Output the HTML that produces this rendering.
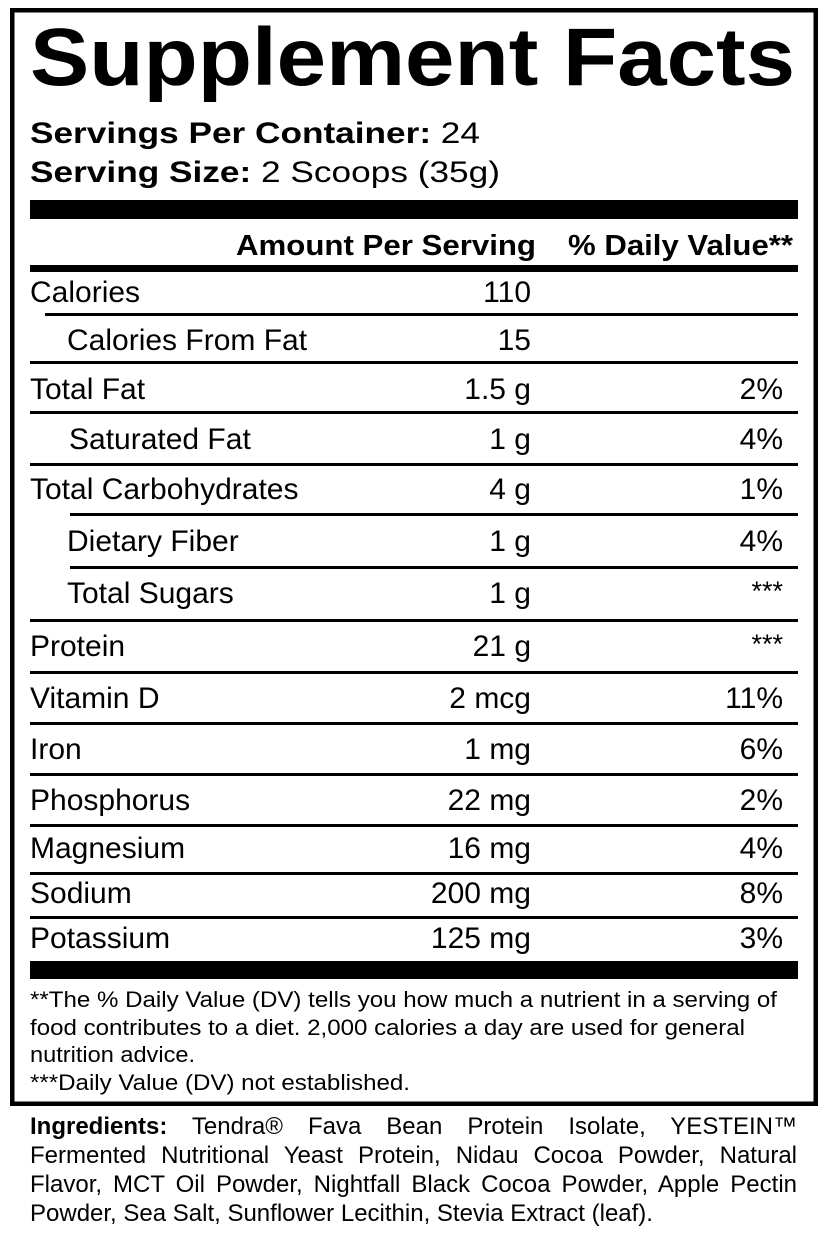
<!DOCTYPE html>
<html><head><meta charset="utf-8"><style>
html,body{margin:0;padding:0;background:#fff}
svg{display:block}
text{font-family:"Liberation Sans",Arial,sans-serif;fill:#000}
.r{font-size:30px}
.e{text-anchor:end}
.f{font-size:22px}
#ing{position:absolute;left:30px;top:1112px;width:767px;font-family:"Liberation Sans",Arial,sans-serif;font-size:24px;line-height:29px}
#ing div{text-align:justify;text-align-last:justify;white-space:nowrap}
#ing div.l{text-align-last:left}
</style></head><body>
<svg width="826" height="1236" viewBox="0 0 826 1236" xmlns="http://www.w3.org/2000/svg">
<rect x="12.25" y="10.25" width="803.5" height="1093.5" fill="none" stroke="#000" stroke-width="4.5"/>
<text x="30" y="85" font-size="82" font-weight="bold" textLength="765" lengthAdjust="spacingAndGlyphs">Supplement Facts</text>
<text x="30" y="143" font-size="30" textLength="450" lengthAdjust="spacingAndGlyphs"><tspan font-weight="bold">Servings Per Container:</tspan> 24</text>
<text x="30" y="182" font-size="30" textLength="470" lengthAdjust="spacingAndGlyphs"><tspan font-weight="bold">Serving Size:</tspan> 2 Scoops (35g)</text>
<rect x="30" y="200" width="768" height="19"/>
<text x="236" y="255" font-size="29" font-weight="bold" textLength="300" lengthAdjust="spacingAndGlyphs">Amount Per Serving</text>
<text x="568" y="255" font-size="29" font-weight="bold" textLength="225" lengthAdjust="spacingAndGlyphs">% Daily Value**</text>
<rect x="30" y="265" width="768" height="7"/>
<g class="r">
<text x="30" y="302">Calories</text><text x="531" y="302" class="e">110</text>
<rect x="45" y="313" width="753" height="3"/>
<text x="67" y="350">Calories From Fat</text><text x="531" y="350" class="e">15</text>
<rect x="30" y="361" width="768" height="3"/>
<text x="30" y="399">Total Fat</text><text x="531" y="399" class="e">1.5 g</text><text x="783" y="399" class="e">2%</text>
<rect x="30" y="411" width="768" height="3"/>
<text x="69" y="449">Saturated Fat</text><text x="531" y="449" class="e">1 g</text><text x="783" y="449" class="e">4%</text>
<rect x="30" y="463" width="768" height="3"/>
<text x="30" y="499">Total Carbohydrates</text><text x="531" y="499" class="e">4 g</text><text x="783" y="499" class="e">1%</text>
<rect x="70" y="513" width="728" height="3"/>
<text x="67" y="551">Dietary Fiber</text><text x="531" y="551" class="e">1 g</text><text x="783" y="551" class="e">4%</text>
<rect x="70" y="566" width="728" height="3"/>
<text x="67" y="603">Total Sugars</text><text x="531" y="603" class="e">1 g</text><text x="783" y="600" class="e" font-size="27">***</text>
<rect x="30" y="619" width="768" height="3"/>
<text x="30" y="656">Protein</text><text x="531" y="656" class="e">21 g</text><text x="783" y="653" class="e" font-size="27">***</text>
<rect x="30" y="671" width="768" height="3"/>
<text x="30" y="708">Vitamin D</text><text x="531" y="708" class="e">2 mcg</text><text x="783" y="708" class="e">11%</text>
<rect x="30" y="722" width="768" height="3"/>
<text x="30" y="759">Iron</text><text x="531" y="759" class="e">1 mg</text><text x="783" y="759" class="e">6%</text>
<rect x="30" y="773" width="768" height="3"/>
<text x="30" y="810">Phosphorus</text><text x="531" y="810" class="e">22 mg</text><text x="783" y="810" class="e">2%</text>
<rect x="30" y="824" width="768" height="3"/>
<text x="30" y="858">Magnesium</text><text x="531" y="858" class="e">16 mg</text><text x="783" y="858" class="e">4%</text>
<rect x="30" y="872" width="768" height="3"/>
<text x="30" y="903">Sodium</text><text x="531" y="903" class="e">200 mg</text><text x="783" y="903" class="e">8%</text>
<rect x="30" y="916" width="768" height="3"/>
<text x="30" y="948">Potassium</text><text x="531" y="948" class="e">125 mg</text><text x="783" y="948" class="e">3%</text>
</g>
<rect x="30" y="961" width="768" height="18"/>
<g class="f">
<text x="30" y="1007" textLength="747" lengthAdjust="spacingAndGlyphs">**The % Daily Value (DV) tells you how much a nutrient in a serving of</text>
<text x="30" y="1035" textLength="715" lengthAdjust="spacingAndGlyphs">food contributes to a diet. 2,000 calories a day are used for general</text>
<text x="30" y="1062" textLength="165" lengthAdjust="spacingAndGlyphs">nutrition advice.</text>
<text x="30" y="1090" textLength="380" lengthAdjust="spacingAndGlyphs">***Daily Value (DV) not established.</text>
</g>
</svg>
<div id="ing">
<div><b>Ingredients:</b> Tendra® Fava Bean Protein Isolate, YESTEIN™</div>
<div>Fermented Nutritional Yeast Protein, Nidau Cocoa Powder, Natural</div>
<div>Flavor, MCT Oil Powder, Nightfall Black Cocoa Powder, Apple Pectin</div>
<div class="l">Powder, Sea Salt, Sunflower Lecithin, Stevia Extract (leaf).</div>
</div>
</body></html>
